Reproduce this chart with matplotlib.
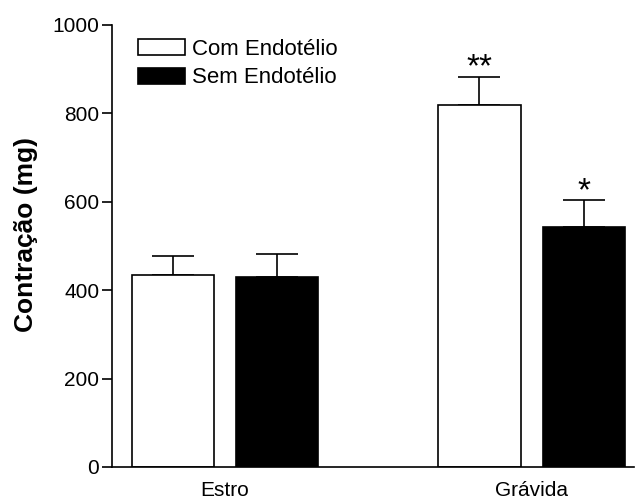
import matplotlib
matplotlib.use("Agg")
import matplotlib.pyplot as plt
import numpy as np

plt.rcParams['font.family'] = ['Liberation Sans', 'DejaVu Sans']

groups = ['Estro', 'Grávida']
series = ['Com Endotélio', 'Sem Endotélio']
com_vals = [434, 819]
com_sem = [43, 64]
sem_vals = [429, 544]
sem_sem = [53, 60]
com_marks = ['', '**']
sem_marks = ['', '*']

fig = plt.figure(figsize=(6.35, 5.0), dpi=100)
ax = fig.add_axes([0.176, 0.066, 0.822, 0.884])

x = np.arange(len(groups))
w = 0.268
off = 0.17

ax.bar(x - off, com_vals, w, color='white', edgecolor='black', linewidth=1.2,
       label=series[0], zorder=2)
ax.bar(x + off, sem_vals, w, color='black', edgecolor='black', linewidth=1.2,
       label=series[1], zorder=2)

ax.errorbar(x - off, com_vals, yerr=[np.zeros(2), com_sem], fmt='none', ecolor='black',
            elinewidth=1.2, capsize=15, capthick=1.2, zorder=1)
ax.errorbar(x + off, sem_vals, yerr=[np.zeros(2), sem_sem], fmt='none', ecolor='black',
            elinewidth=1.2, capsize=15, capthick=1.2, zorder=1)

# significance marks above the error caps
for xs, vals, sems, marks in [(x - off, com_vals, com_sem, com_marks),
                              (x + off, sem_vals, sem_sem, sem_marks)]:
    for xi, v, s, m in zip(xs, vals, sems, marks):
        if m:
            ax.annotate(m, (xi, v + s), xytext=(0, 0), textcoords='offset points',
                        ha='center', va='baseline', fontsize=24)

ax.set_xlim(-0.369, 1.333)
ax.set_ylim(0, 1000)
ax.set_yticks([0, 200, 400, 600, 800, 1000])
ax.set_xticks(x)
ax.set_xticklabels(groups)
ax.tick_params(axis='x', length=0, labelsize=15, pad=10)
ax.tick_params(axis='y', length=7, width=1.2, labelsize=15, pad=2)
for side in ['top', 'right']:
    ax.spines[side].set_visible(False)
for side in ['left', 'bottom']:
    ax.spines[side].set_linewidth(1.2)

ax.set_ylabel('Contração (mg)', fontsize=19, fontweight='bold')
ax.yaxis.set_label_coords(-0.142, 0.525)

ax.legend(loc='upper left', bbox_to_anchor=(0.05, 0.969), frameon=False, fontsize=16,
          borderpad=0, borderaxespad=0, handlelength=2.1, handleheight=0.75,
          handletextpad=0.35, labelspacing=0.35)

fig.savefig('out.png', dpi=100)
